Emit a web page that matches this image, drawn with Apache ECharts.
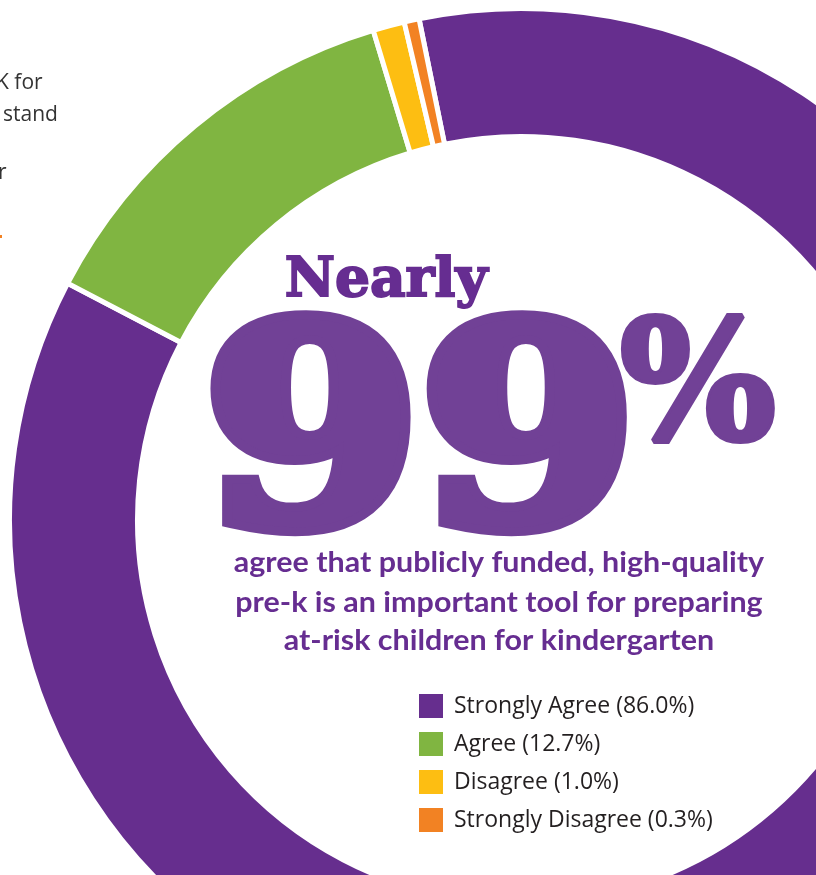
<!DOCTYPE html>
<html>
<head>
<meta charset="utf-8">
<script src="https://cdn.jsdelivr.net/npm/echarts@6/dist/echarts.min.js"></script>
<style>
html,body{margin:0;padding:0;background:#fff;}
#chart{width:816px;height:875px;}
</style>
</head>
<body>
<div id="chart"></div>
<script>
var categories = ['Strongly Agree', 'Agree', 'Disagree', 'Strongly Disagree'];
var values = [86.0, 12.7, 1.0, 0.3];
var colors = ['#662E8E', '#80B541', '#FDBE12', '#F28223'];

var chart = echarts.init(document.getElementById('chart'), null, {renderer: 'canvas'});

var pieData = categories.map(function (c, i) {
  return {name: c, value: values[i], itemStyle: {color: colors[i]}};
});

var option = {
  animation: false,
  backgroundColor: '#ffffff',
  legend: {
    orient: 'vertical',
    left: 417,
    top: 692,
    padding: 0,
    itemWidth: 26,
    itemHeight: 26,
    itemGap: 10,
    icon: 'rect',
    selectedMode: false,
    data: categories,
    formatter: function (name) {
      var i = categories.indexOf(name);
      return name + ' (' + values[i].toFixed(1) + '%)';
    },
    textStyle: {fontFamily: 'Open Sans', fontSize: 23, color: '#231F20', padding: [0, 0, 0, 5]}
  },
  series: [{
    type: 'pie',
    center: [521, 520],
    radius: [383.5, 511.5],
    startAngle: 101.5,
    clockwise: true,
    minAngle: 1.7,
    label: {show: false},
    labelLine: {show: false},
    emphasis: {disabled: true},
    silent: true,
    itemStyle: {borderColor: '#ffffff', borderWidth: 5},
    data: pieData
  }],
  graphic: [
    {type: 'text', left: -4, top: 73, style: {text: 'K for', font: '21px "Open Sans"', fill: '#333333'}},
    {type: 'text', left: 3, top: 105, style: {text: 'stand', font: '21px "Open Sans"', fill: '#333333'}},
    {type: 'text', left: -2, top: 163, style: {text: 'r', font: '21px "Open Sans"', fill: '#333333'}},
    {type: 'rect', left: 0, top: 235, shape: {width: 2, height: 3}, style: {fill: '#F28223'}},
    {type: 'text', x: 386, y: 282, style: {text: 'Nearly', font: 'bold 55px "DejaVu Serif"', fill: '#662D91', stroke: '#662D91', lineWidth: 2, align: 'center', verticalAlign: 'middle'}},
    {type: 'text', x: 420, y: 452, scaleX: 1.13, style: {text: '99', font: 'bold 275px "DejaVu Serif"', fill: '#714196', stroke: '#714196', lineWidth: 18, lineJoin: 'round', align: 'center', verticalAlign: 'middle'}},
    {type: 'text', x: 698, y: 396, style: {text: '%', font: 'bold 164px "DejaVu Serif"', fill: '#714196', stroke: '#714196', lineWidth: 6, align: 'center', verticalAlign: 'middle'}},
    {type: 'text', x: 499, y: 563, scaleX: 1.05, style: {text: 'agree that publicly funded, high-quality', font: 'bold 29px Lato', fill: '#662D91', align: 'center', verticalAlign: 'middle'}},
    {type: 'text', x: 499, y: 603, scaleX: 1.05, style: {text: 'pre-k is an important tool for preparing', font: 'bold 29px Lato', fill: '#662D91', align: 'center', verticalAlign: 'middle'}},
    {type: 'text', x: 499, y: 641, scaleX: 1.05, style: {text: 'at-risk children for kindergarten', font: 'bold 29px Lato', fill: '#662D91', align: 'center', verticalAlign: 'middle'}}
  ]
};
chart.setOption(option);
</script>
</body>
</html>
